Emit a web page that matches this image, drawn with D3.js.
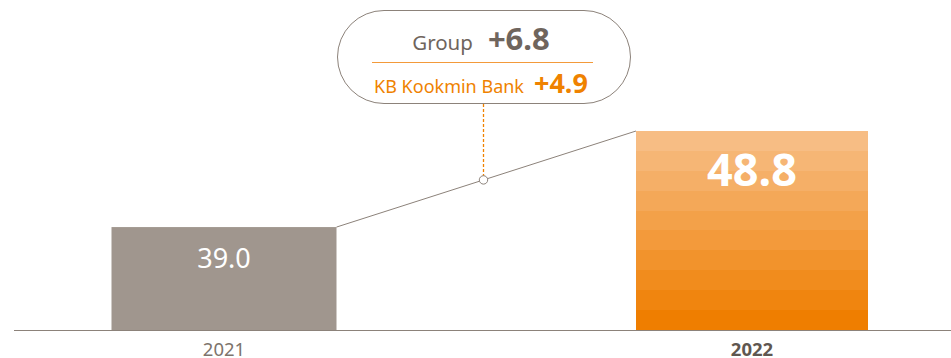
<!DOCTYPE html>
<html>
<head>
<meta charset="utf-8">
<script src="https://cdn.jsdelivr.net/npm/d3@7"></script>
<style>
  html, body { margin: 0; padding: 0; background: #fff; }
  svg { display: block; font-family: "Noto Sans", "Open Sans", sans-serif; }
</style>
</head>
<body>
<svg id="chart" width="951" height="358"></svg>
<script>
// Yearly values
const years = ["2021", "2022"];
const values = [39.0, 48.8];
const valueLabels = ["39.0", "48.8"];

// Growth callout
const calloutNames = ["Group", "KB Kookmin Bank"];
const calloutValues = ["+6.8", "+4.9"];

const svg = d3.select("#chart");
const W = 951, H = 358;
const baseY = 330;

const x = d3.scalePoint()
  .domain(years)
  .range([224, 752]);
const barW = [225, 232];

const y = d3.scaleLinear()
  .domain([28.5, 48.8])
  .range([baseY, 131]);

// Striped orange gradient for the highlighted bar
const defs = svg.append("defs");
const grad = defs.append("linearGradient")
  .attr("id", "orangeBands")
  .attr("x1", 0).attr("y1", 0).attr("x2", 0).attr("y2", 1);
const bands = 10;
const bandColor = d3.interpolateRgb("#f7bd84", "#ef7e00");
for (let i = 0; i < bands; i++) {
  const c = bandColor(i / (bands - 1));
  grad.append("stop").attr("offset", (i / bands * 100) + "%").attr("stop-color", c);
  grad.append("stop").attr("offset", ((i + 1) / bands * 100) + "%").attr("stop-color", c);
}

const fills = ["#a0968e", "url(#orangeBands)"];

// Bars
svg.selectAll("rect.bar")
  .data(values)
  .join("rect")
  .attr("class", "bar")
  .attr("x", (d, i) => x(years[i]) - barW[i] / 2)
  .attr("width", (d, i) => barW[i])
  .attr("y", d => y(d))
  .attr("height", d => baseY - y(d))
  .attr("fill", (d, i) => fills[i]);

// Baseline
svg.append("line")
  .attr("x1", 14).attr("x2", W)
  .attr("y1", baseY + 0.5).attr("y2", baseY + 0.5)
  .attr("stroke", "#8c827a").attr("stroke-width", 1);

// Connector between bar tops
const p0 = [x(years[0]) + barW[0] / 2, y(values[0])];
const p1 = [x(years[1]) - barW[1] / 2, y(values[1])];
svg.append("line")
  .attr("x1", p0[0]).attr("y1", p0[1])
  .attr("x2", p1[0]).attr("y2", p1[1])
  .attr("stroke", "#8c827a").attr("stroke-width", 1);

// Callout pill, pointer sits under its centre on the connector
const pill = { x: 337, y: 10, w: 293, h: 93 };
const px = Math.floor(pill.x + pill.w / 2) + 0.5;
const t = (px - p0[0]) / (p1[0] - p0[0]);
const mid = [px, p0[1] + t * (p1[1] - p0[1])];

svg.append("path")
  .attr("d", `M${mid[0]},${pill.y + pill.h + 1}V${mid[1] - 4}`)
  .attr("fill", "none")
  .attr("stroke", "#ef8200").attr("stroke-width", 1.3)
  .attr("stroke-dasharray", "3,2");

svg.append("circle")
  .attr("cx", mid[0]).attr("cy", mid[1]).attr("r", 4.2)
  .attr("fill", "#fff").attr("stroke", "#8c827a").attr("stroke-width", 1);

svg.append("rect")
  .attr("x", pill.x + 0.5).attr("y", pill.y + 0.5)
  .attr("width", pill.w).attr("height", pill.h)
  .attr("rx", pill.h / 2).attr("ry", pill.h / 2)
  .attr("fill", "#fff").attr("stroke", "#8c827a").attr("stroke-width", 1);

svg.append("line")
  .attr("x1", 372).attr("x2", 593)
  .attr("y1", 62.5).attr("y2", 62.5)
  .attr("stroke", "#f39a3a").attr("stroke-width", 1);

// Group line
const g1 = svg.append("text").attr("x", 481).attr("y", 50).attr("text-anchor", "middle");
g1.append("tspan").text(calloutNames[0])
  .attr("font-size", 20.5).attr("fill", "#6f655d");
g1.append("tspan").text(calloutValues[0])
  .attr("dx", 15).attr("font-size", 31).attr("font-weight", "bold").attr("fill", "#6f655d");

// Bank line
const g2 = svg.append("text").attr("x", 481).attr("y", 93).attr("text-anchor", "middle");
g2.append("tspan").text(calloutNames[1])
  .attr("font-size", 18).attr("fill", "#ef8200");
g2.append("tspan").text(calloutValues[1])
  .attr("dx", 10).attr("font-size", 27).attr("font-weight", "bold").attr("fill", "#ef8200");

// Value labels inside bars
svg.append("text")
  .attr("x", x(years[0])).attr("y", 268)
  .attr("text-anchor", "middle")
  .attr("font-size", 27).attr("fill", "#fff")
  .text(valueLabels[0]);

svg.append("text")
  .attr("x", x(years[1])).attr("y", 186)
  .attr("text-anchor", "middle")
  .attr("font-size", 45).attr("font-weight", "bold").attr("fill", "#fff")
  .text(valueLabels[1]);

// Year labels
svg.selectAll("text.year")
  .data(years)
  .join("text")
  .attr("class", "year")
  .attr("x", d => x(d))
  .attr("y", 356)
  .attr("text-anchor", "middle")
  .attr("font-size", 18.5)
  .attr("font-weight", (d, i) => i === 1 ? "bold" : "normal")
  .attr("fill", (d, i) => i === 1 ? "#5f5750" : "#7d746c")
  .text(d => d);
</script>
</body>
</html>
